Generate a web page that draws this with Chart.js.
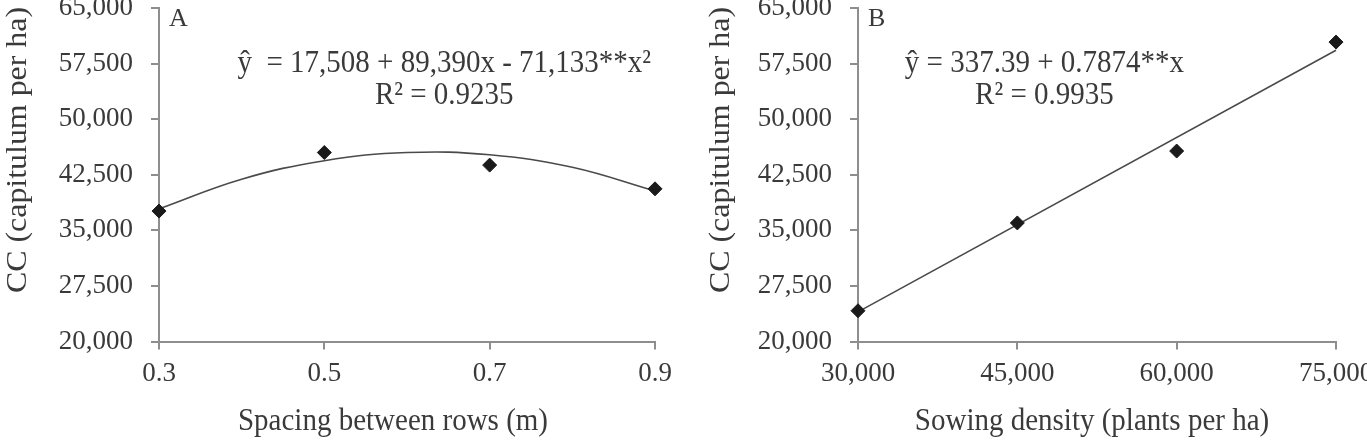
<!DOCTYPE html>
<html>
<head>
<meta charset="utf-8">
<script src="https://cdn.jsdelivr.net/npm/chart.js@4.4.0/dist/chart.umd.min.js"></script>
<style>
  html, body { margin: 0; padding: 0; background: #fff; }
  .panel { position: absolute; top: 0; height: 441px; }
  #wrapA { left: 0; width: 683px; }
  #wrapB { left: 683px; width: 684px; }
</style>
</head>
<body>
<div class="panel" id="wrapA"><canvas id="chartA" width="683" height="441"></canvas></div>
<div class="panel" id="wrapB"><canvas id="chartB" width="684" height="441"></canvas></div>
<script>
const spacingA = [0.3, 0.5, 0.7, 0.9];
const ccA = [37600, 45500, 43800, 40600];
const trendXA = [0.3, 0.4, 0.5, 0.6, 0.7, 0.8, 0.9];
const trendYA = [37900, 41900, 44400, 45500, 45200, 43500, 40300];

// Panel B - sowing density
const densityB = [30000, 45000, 60000, 75000];
const ccB = [24150, 36000, 45700, 60400];
const trendXB = [30000, 75000];
const trendYB = [24000, 59300];

// tick labels
const yTicks = [20000, 27500, 35000, 42500, 50000, 57500, 65000];
const xTicksA = [0.3, 0.5, 0.7, 0.9];
const xTicksB = [30000, 45000, 60000, 75000];

const SERIF = '"Liberation Serif", "Times New Roman", serif';
const TEXT = '#3a3a3a';
const AXIS = '#8e8e8e';

function pts(xs, ys) {
    return xs.map((x, i) => ({ x: x, y: ys[i] }));
}

function commas(v) {
    return Number(v).toLocaleString('en-US');
}

// text a bit taller than wide, like the scanned figure
function tallText(ctx, txt, x, y, stretch) {
    ctx.save();
    ctx.translate(x, y);
    ctx.scale(1, stretch);
    ctx.fillText(txt, 0, 0);
    ctx.restore();
}

// draws panel letter, equation, and axis titles
const panelText = {
    id: 'panelText',
    afterDraw(chart, args, opts) {
        const ctx = chart.ctx;
        const a = chart.chartArea;
        ctx.save();
        ctx.fillStyle = TEXT;
        ctx.textBaseline = 'middle';

        ctx.font = '26px ' + SERIF;
        ctx.textAlign = 'left';
        tallText(ctx, opts.letter, a.left + 10, a.top + 11, 1.0);

        ctx.font = '29px ' + SERIF;
        ctx.textAlign = 'center';
        const cx = a.left + (a.right - a.left) * opts.eqX;
        tallText(ctx, opts.eq, cx, a.top + 56, 1.08);
        tallText(ctx, opts.r2, cx, a.top + 88, 1.08);

        ctx.font = '29px ' + SERIF;
        tallText(ctx, opts.xTitle, (a.left + a.right) / 2 + opts.xTitleShift, 422, 1.08);

        // rotated y title, stretched along its length
        ctx.translate(opts.yTitleX, opts.yTitleY);
        ctx.rotate(-Math.PI / 2);
        ctx.scale(1.1, 1);
        ctx.fillText(opts.yTitle, 0, 0);
        ctx.restore();
    }
};

function makeChart(id, cfg) {
    const ctx = document.getElementById(id).getContext('2d');
    return new Chart(ctx, {
        type: 'scatter',
        data: {
            datasets: [{
                data: pts(cfg.trendX, cfg.trendY),
                showLine: true,
                borderColor: '#4a4a4a',
                borderWidth: 1.6,
                pointRadius: 0,
                tension: cfg.tension,
                clip: false,
                order: 2
            }, {
                data: pts(cfg.x, cfg.y),
                pointStyle: 'rectRot',
                pointRadius: 7,
                backgroundColor: '#1a1a1a',
                borderColor: '#1a1a1a',
                borderWidth: 1,
                clip: false,
                order: 1
            }]
        },
        options: {
            responsive: false,
            animation: false,
            layout: { padding: { top: 6, right: cfg.padRight, left: 0, bottom: 0 } },
            plugins: {
                legend: { display: false },
                tooltip: { enabled: false },
                panelText: cfg.text
            },
            scales: {
                x: {
                    type: 'linear',
                    min: cfg.xTicks[0],
                    max: cfg.xTicks[cfg.xTicks.length - 1],
                    afterBuildTicks: s => { s.ticks = cfg.xTicks.map(v => ({ value: v })); },
                    grid: { drawOnChartArea: false, tickLength: 8, color: AXIS, lineWidth: 2 },
                    border: { color: AXIS, width: 2 },
                    ticks: {
                        font: { family: SERIF, size: 27 },
                        color: TEXT,
                        padding: 8,
                        maxRotation: 0,
                        autoSkip: false,
                        callback: cfg.xFmt
                    },
                    afterFit: s => {
                        s.height = 99.5;
                        s.paddingLeft = 0;
                        s.paddingRight = 0;
                    }
                },
                y: {
                    min: 20000,
                    max: 65000,
                    afterBuildTicks: s => { s.ticks = yTicks.map(v => ({ value: v })); },
                    grid: { drawOnChartArea: false, tickLength: 8, color: AXIS, lineWidth: 2 },
                    border: { color: AXIS, width: 2 },
                    ticks: {
                        font: { family: SERIF, size: 27 },
                        color: TEXT,
                        padding: 18,
                        callback: v => commas(v)
                    },
                    afterFit: s => {
                        s.width = cfg.axisLeft;
                        s.paddingTop = 0;
                        s.paddingBottom = 0;
                    }
                }
            }
        },
        plugins: [panelText]
    });
}

makeChart('chartA', {
    x: spacingA, y: ccA, trendX: trendXA, trendY: trendYA, tension: 0.4,
    xTicks: xTicksA, xFmt: v => Number(v).toFixed(1),
    axisLeft: 159, padRight: 28,
    text: {
        letter: 'A',
        eq: 'ŷ  = 17,508 + 89,390x - 71,133**x²',
        r2: 'R² = 0.9235',
        eqX: 0.575,
        xTitle: 'Spacing between rows (m)', xTitleShift: -14,
        yTitle: 'CC (capitulum per ha)', yTitleX: 18, yTitleY: 150
    }
});

makeChart('chartB', {
    x: densityB, y: ccB, trendX: trendXB, trendY: trendYB, tension: 0,
    xTicks: xTicksB, xFmt: v => commas(v),
    axisLeft: 175, padRight: 31,
    text: {
        letter: 'B',
        eq: 'ŷ = 337.39 + 0.7874**x',
        r2: 'R² = 0.9935',
        eqX: 0.39,
        xTitle: 'Sowing density (plants per ha)', xTitleShift: -5,
        yTitle: 'CC (capitulum per ha)', yTitleX: 38, yTitleY: 150
    }
});
</script>
</body>
</html>
